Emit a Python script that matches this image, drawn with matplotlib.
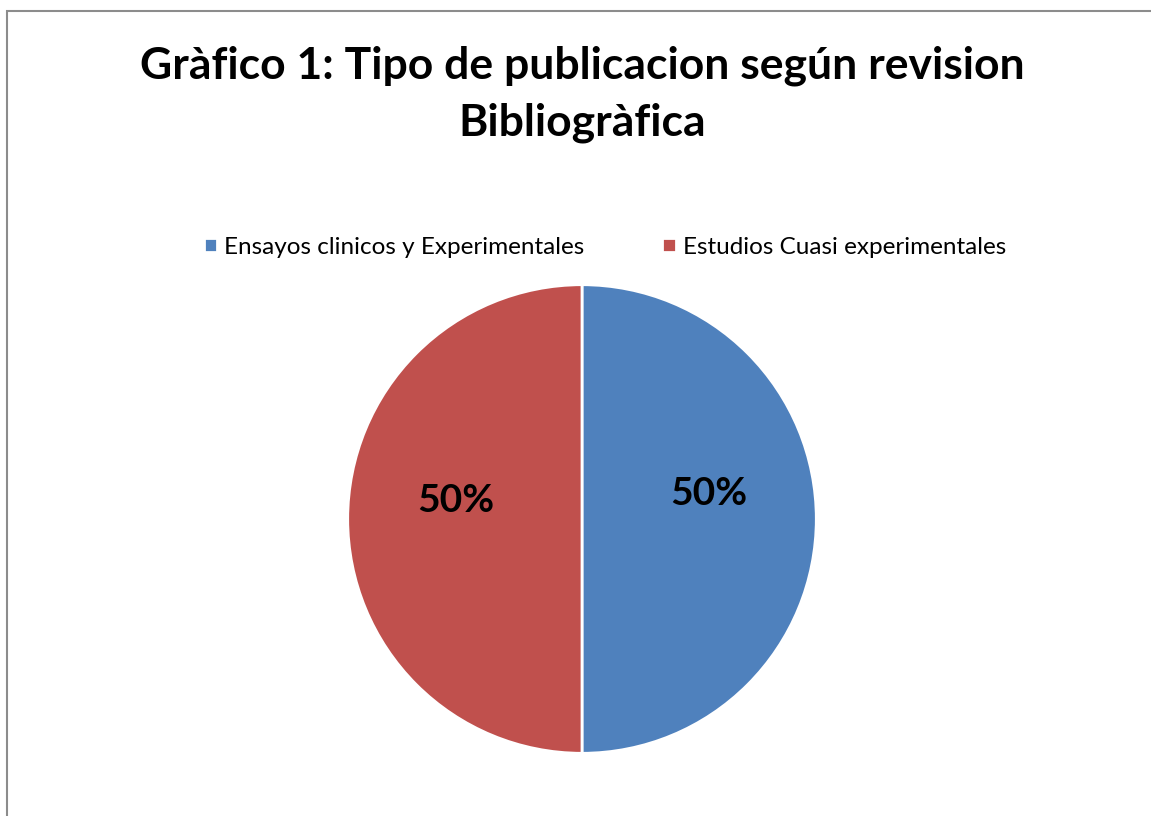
import matplotlib
matplotlib.use('Agg')
import matplotlib.pyplot as plt
from matplotlib.patches import Rectangle

plt.rcParams['font.family'] = ['Lato', 'DejaVu Sans']

titulo = "Gràfico 1: Tipo de publicacion según revision\nBibliogràfica"
categorias = ["Ensayos clinicos y Experimentales", "Estudios Cuasi experimentales"]
valores = [50, 50]
colores = ["#4F81BD", "#C0504D"]

W, H = 1151, 816
fig = plt.figure(figsize=(W / 100, H / 100), dpi=100)
fig.patch.set_facecolor('white')

# frame of the chart area (only left and top are visible in the original)
fig.patches.append(Rectangle((7 / W, -0.05), 1.1, 1 - 11 / H + 0.05,
                             transform=fig.transFigure, fill=False,
                             edgecolor='#8c8c8c', linewidth=1.5))

fig.text(582 / W, 1 - 94 / H, titulo, ha='center', va='center',
         fontsize=32, fontweight='bold', linespacing=1.5)

# pie area: center (582, 519), radius 235 px
r = 235
ax = fig.add_axes([(582 - r) / W, (H - 519 - r) / H, 2 * r / W, 2 * r / H])
wedges, texts, autotexts = ax.pie(valores, colors=colores, startangle=90,
                                  counterclock=False, autopct='%1.0f%%',
                                  pctdistance=0.54,
                                  wedgeprops=dict(edgecolor='white', linewidth=2),
                                  textprops=dict(fontsize=28, fontweight='bold',
                                                 color='black'))
ax.set_xlim(-1.003, 1.003)
ax.set_ylim(-1.003, 1.003)
autotexts[0].set_y(autotexts[0].get_position()[1] + 0.11)
autotexts[1].set_y(autotexts[1].get_position()[1] + 0.08)

fig.legend(wedges, categorias, loc='center', bbox_to_anchor=(605 / W, 1 - 247 / H),
           ncol=2, frameon=False, fontsize=17.5, handlelength=0.55, handleheight=0.55,
           handletextpad=0.3, columnspacing=3.2)

fig.savefig('out.png', dpi=100)
